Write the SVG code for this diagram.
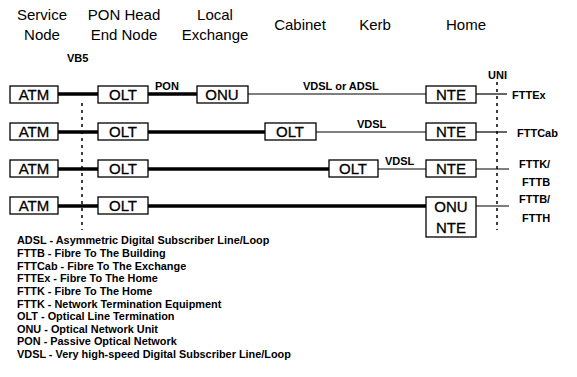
<svg xmlns="http://www.w3.org/2000/svg" width="577" height="377" viewBox="0 0 577 377">
<style>
text{font-family:"Liberation Sans",Arial,sans-serif;fill:#000}
.hd{font-size:15px;text-anchor:middle}
.bx{fill:#fff;stroke:#000;stroke-width:1.3}
.bl{font-size:15px;text-anchor:middle;stroke:#000;stroke-width:0.3}
.lb{font-size:11px;font-weight:bold}
.sm{font-size:11px;font-weight:bold}
.lg{font-size:10.9px;font-weight:bold}
.thick{stroke:#000;stroke-width:3.5;fill:none}
.thin{stroke:#000;stroke-width:1.2;fill:none}
.dash{stroke:#000;stroke-width:1.5;stroke-dasharray:3 4;fill:none}
</style>
<rect width="577" height="377" fill="#fff"/>
<g id="headers">
<text class="hd" x="42" y="20">Service</text>
<text class="hd" x="42" y="40">Node</text>
<text class="hd" x="124" y="20">PON Head</text>
<text class="hd" x="124" y="40">End Node</text>
<text class="hd" x="215" y="20">Local</text>
<text class="hd" x="215" y="40">Exchange</text>
<text class="hd" x="300" y="30">Cabinet</text>
<text class="hd" x="375" y="30">Kerb</text>
<text class="hd" x="466" y="30">Home</text>
<text class="lb" x="67" y="62">VB5</text>
<text class="sm" x="488" y="79">UNI</text>
</g>
<g id="connectors">
<line class="dash" x1="82" y1="103" x2="82" y2="230"/>
<line class="dash" x1="497" y1="82" x2="497" y2="230"/>
<line class="thick" x1="58" y1="94" x2="98" y2="94"/>
<line class="thick" x1="148" y1="94" x2="197" y2="94"/>
<line class="thin" x1="248" y1="94" x2="426" y2="94"/>
<line class="thin" x1="476" y1="94" x2="507" y2="94"/>
<line class="thick" x1="58" y1="132" x2="98" y2="132"/>
<line class="thick" x1="148" y1="132" x2="265" y2="132"/>
<line class="thin" x1="316" y1="132" x2="426" y2="132"/>
<line class="thin" x1="476" y1="132" x2="507" y2="132" stroke-width="2"/>
<line class="thick" x1="58" y1="169" x2="98" y2="169"/>
<line class="thick" x1="148" y1="169" x2="329" y2="169"/>
<line class="thin" x1="378" y1="169" x2="426" y2="169"/>
<line class="thin" x1="476" y1="169" x2="509" y2="169"/>
<line class="thick" x1="58" y1="206" x2="98" y2="206"/>
<line class="thick" x1="148" y1="206" x2="426" y2="206"/>
<line class="thin" x1="476" y1="206" x2="509" y2="206"/>
<text class="lb" x="155" y="90">PON</text>
<text class="lb" x="303" y="90">VDSL or ADSL</text>
<text class="lb" x="357" y="128">VDSL</text>
<text class="lb" x="385" y="165">VDSL</text>
<text class="sm" x="512" y="99">FTTEx</text>
<text class="sm" x="517" y="137">FTTCab</text>
<text class="sm" x="519" y="168">FTTK/</text>
<text class="sm" x="522" y="186">FTTB</text>
<text class="sm" x="519" y="203">FTTB/</text>
<text class="sm" x="522" y="222">FTTH</text>
</g>
<g id="atm1"><rect class="bx" x="10" y="86" width="48" height="17"/><text class="bl" x="34" y="100">ATM</text></g>
<g id="olt1"><rect class="bx" x="98" y="86" width="50" height="17"/><text class="bl" x="123" y="100">OLT</text></g>
<g id="onu1"><rect class="bx" x="197" y="86" width="51" height="17"/><text class="bl" x="222" y="100">ONU</text></g>
<g id="nte1"><rect class="bx" x="426" y="86" width="50" height="17"/><text class="bl" x="451" y="100">NTE</text></g>
<g id="atm2"><rect class="bx" x="10" y="123" width="48" height="17"/><text class="bl" x="34" y="137">ATM</text></g>
<g id="olt2"><rect class="bx" x="98" y="123" width="50" height="17"/><text class="bl" x="123" y="137">OLT</text></g>
<g id="olt2c"><rect class="bx" x="265" y="123" width="51" height="17"/><text class="bl" x="290" y="137">OLT</text></g>
<g id="nte2"><rect class="bx" x="426" y="123" width="50" height="17"/><text class="bl" x="451" y="137">NTE</text></g>
<g id="atm3"><rect class="bx" x="10" y="160" width="48" height="17"/><text class="bl" x="34" y="174">ATM</text></g>
<g id="olt3"><rect class="bx" x="98" y="160" width="50" height="17"/><text class="bl" x="123" y="174">OLT</text></g>
<g id="olt3k"><rect class="bx" x="329" y="160" width="49" height="17"/><text class="bl" x="353" y="174">OLT</text></g>
<g id="nte3"><rect class="bx" x="426" y="160" width="50" height="17"/><text class="bl" x="451" y="174">NTE</text></g>
<g id="atm4"><rect class="bx" x="10" y="197" width="48" height="17"/><text class="bl" x="34" y="211">ATM</text></g>
<g id="olt4"><rect class="bx" x="98" y="197" width="50" height="17"/><text class="bl" x="123" y="211">OLT</text></g>
<g id="onunte4"><rect class="bx" x="426" y="197" width="50" height="40"/><text class="bl" x="451" y="212">ONU</text><text class="bl" x="451" y="233">NTE</text></g>
<g id="legend">
<text class="lg" x="17" y="244">ADSL - Asymmetric Digital Subscriber Line/Loop</text>
<text class="lg" x="17" y="257">FTTB - Fibre To The Building</text>
<text class="lg" x="17" y="270">FTTCab - Fibre To The Exchange</text>
<text class="lg" x="17" y="282">FTTEx - Fibre To The Home</text>
<text class="lg" x="17" y="295">FTTK - Fibre To The Home</text>
<text class="lg" x="17" y="308">FTTK - Network Termination Equipment</text>
<text class="lg" x="17" y="320">OLT - Optical Line Termination</text>
<text class="lg" x="17" y="333">ONU - Optical Network Unit</text>
<text class="lg" x="17" y="345">PON - Passive Optical Network</text>
<text class="lg" x="17" y="358">VDSL - Very high-speed Digital Subscriber Line/Loop</text>
</g>
</svg>
